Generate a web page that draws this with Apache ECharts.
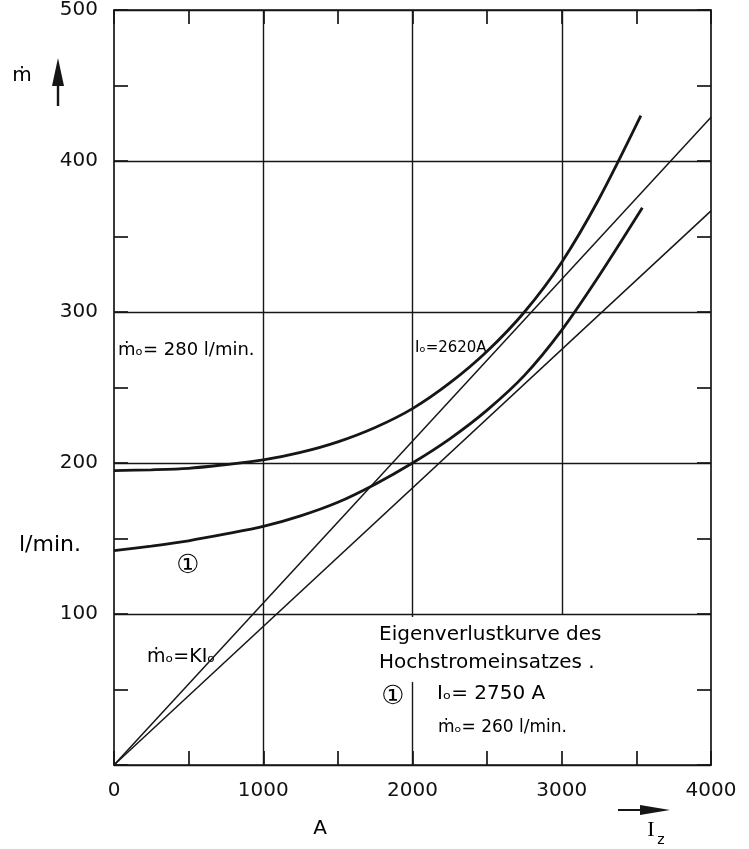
<!DOCTYPE html>
<html>
<head>
<meta charset="utf-8">
<script src="https://cdn.jsdelivr.net/npm/echarts@6/dist/echarts.min.js"></script>
<style>html,body{margin:0;padding:0;background:#fff}#c{width:749px;height:849px}</style>
</head>
<body>
<div id="c"></div>
<script>
// ---- data ----
const curveX = [0, 250, 500, 750, 1000, 1250, 1500, 1750, 2000, 2250, 2500, 2750, 3000, 3250];
const upperY = [195, 195.5, 196.5, 199, 202, 207, 214, 223.5, 236, 253, 274, 300, 333, 375];
const lowerY = [142, 145, 148.5, 153, 158, 165, 174, 186, 200, 216, 235, 258, 288, 324];
const upperEnd = [3530, 430];
const lowerEnd = [3540, 369];
const lineAX = [0, 4000];
const lineAY = [0, 429];
const lineBX = [0, 4000];
const lineBY = [0, 367];
const xTicks = [0, 1000, 2000, 3000, 4000];
const yTicks = [100, 200, 300, 400, 500];
// vertical grid segments [x, yFrom, yTo]
const vGrid = [[1000, 0, 500], [2000, 0, 55], [2000, 98, 500], [3000, 100, 500]];

const INK = '#161616';
const FONT = 'DejaVu Sans';
const zip = (xs, ys) => xs.map((x, i) => [x, ys[i]]);

const chart = echarts.init(document.getElementById('c'), null, {renderer: 'canvas'});
const axisCommon = {
  min: 0,
  axisLine: {show: true, onZero: false, lineStyle: {color: INK, width: 1.7}},
  axisTick: {show: true, inside: true, length: 14, lineStyle: {color: INK, width: 1.7}},
  minorTick: {show: true, splitNumber: 2, length: 14, lineStyle: {color: INK, width: 1.7}},
};
chart.setOption({
  animation: false,
  backgroundColor: '#fff',
  grid: {left: 114, right: 38, top: 10, bottom: 84},
  xAxis: [
    Object.assign({}, axisCommon, {
      type: 'value', max: 4000, interval: 1000, position: 'bottom',
      splitLine: {show: false},
      axisLabel: {margin: 16, fontSize: 20, fontFamily: FONT, color: '#111',
        formatter: v => xTicks.includes(v) ? String(v) : ''}
    }),
    Object.assign({}, axisCommon, {
      type: 'value', max: 4000, interval: 1000, position: 'top',
      splitLine: {show: false}, axisLabel: {show: false}
    })
  ],
  yAxis: [
    Object.assign({}, axisCommon, {
      type: 'value', max: 500, interval: 100, position: 'left',
      splitLine: {show: true, lineStyle: {color: INK, width: 1.4}},
      axisLabel: {margin: 16, fontSize: 20, fontFamily: FONT, color: '#111',
        formatter: v => yTicks.includes(v) ? String(v) : ''}
    }),
    Object.assign({}, axisCommon, {
      type: 'value', max: 500, interval: 100, position: 'right',
      splitLine: {show: false}, axisLabel: {show: false}
    })
  ],
  series: [
    {
      type: 'line', data: zip(curveX, upperY).concat([upperEnd]), smooth: 0.3, showSymbol: false,
      lineStyle: {color: INK, width: 2.8},
      markLine: {
        silent: true, symbol: 'none', label: {show: false},
        lineStyle: {color: INK, width: 1.4, type: 'solid'},
        data: vGrid.map(g => [{coord: [g[0], g[1]]}, {coord: [g[0], g[2]]}])
      }
    },
    {type: 'line', data: zip(curveX, lowerY).concat([lowerEnd]), smooth: 0.3, showSymbol: false,
      lineStyle: {color: INK, width: 2.8}},
    {type: 'line', data: zip(lineAX, lineAY), showSymbol: false,
      lineStyle: {color: INK, width: 1.5}},
    {type: 'line', data: zip(lineBX, lineBY), showSymbol: false,
      lineStyle: {color: INK, width: 1.5}}
  ],
  graphic: [
    {type: 'text', style: {text: 'ṁ', x: 22, y: 76, font: '20px ' + FONT, fill: '#000', textAlign: 'center', textVerticalAlign: 'middle'}},
    {type: 'line', shape: {x1: 58, y1: 106, x2: 58, y2: 76}, style: {stroke: INK, lineWidth: 2.4}},
    {type: 'polygon', shape: {points: [[58, 58], [52, 86], [64, 86]]}, style: {fill: INK}},
    {type: 'text', style: {text: 'l/min.', x: 50, y: 545, font: '22px ' + FONT, fill: '#000', textAlign: 'center', textVerticalAlign: 'middle'}},
    {type: 'text', style: {text: 'A', x: 320, y: 829, font: '20px ' + FONT, fill: '#000', textAlign: 'center', textVerticalAlign: 'middle'}},
    {type: 'line', shape: {x1: 618, y1: 810, x2: 648, y2: 810}, style: {stroke: INK, lineWidth: 2}},
    {type: 'polygon', shape: {points: [[670, 810], [640, 805], [640, 815]]}, style: {fill: INK}},
    {type: 'text', style: {text: 'I', x: 651, y: 830, font: '22px Liberation Serif', fill: '#000', textAlign: 'center', textVerticalAlign: 'middle'}},
    {type: 'text', style: {text: 'z', x: 661, y: 840, font: '14px ' + FONT, fill: '#000', textAlign: 'center', textVerticalAlign: 'middle'}},
    {type: 'text', style: {text: 'ṁₒ= 280 l/min.', x: 118, y: 350, font: '18px ' + FONT, fill: '#000', textAlign: 'left', textVerticalAlign: 'middle'}},
    {type: 'text', style: {text: 'Iₒ=2620A', x: 415, y: 348, font: '15px ' + FONT, fill: '#000', textAlign: 'left', textVerticalAlign: 'middle'}},
    {type: 'text', style: {text: '①', x: 188, y: 566, font: '26px ' + FONT, fill: '#000', textAlign: 'center', textVerticalAlign: 'middle'}},
    {type: 'text', style: {text: 'ṁₒ=KIₒ', x: 147, y: 657, font: '19px ' + FONT, fill: '#000', textAlign: 'left', textVerticalAlign: 'middle'}},
    {type: 'text', style: {text: 'Eigenverlustkurve des', x: 379, y: 635, font: '20px ' + FONT, fill: '#000', textAlign: 'left', textVerticalAlign: 'middle'}},
    {type: 'text', style: {text: 'Hochstromeinsatzes .', x: 379, y: 663, font: '20px ' + FONT, fill: '#000', textAlign: 'left', textVerticalAlign: 'middle'}},
    {type: 'text', style: {text: '①', x: 393, y: 697, font: '26px ' + FONT, fill: '#000', textAlign: 'center', textVerticalAlign: 'middle'}},
    {type: 'text', style: {text: 'Iₒ= 2750 A', x: 437, y: 694, font: '20px ' + FONT, fill: '#000', textAlign: 'left', textVerticalAlign: 'middle'}},
    {type: 'text', style: {text: 'ṁₒ= 260 l/min.', x: 438, y: 728, font: '17px ' + FONT, fill: '#000', textAlign: 'left', textVerticalAlign: 'middle'}}
  ]
});
</script>
</body>
</html>
